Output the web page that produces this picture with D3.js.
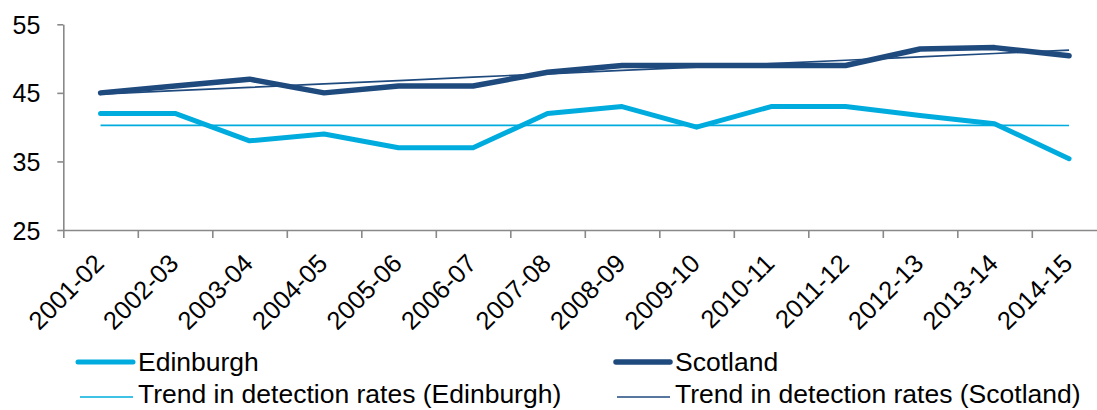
<!DOCTYPE html>
<html>
<head>
<meta charset="utf-8">
<script src="https://cdn.jsdelivr.net/npm/d3@7"></script>
<style>
  html, body { margin: 0; padding: 0; background: #fff; }
  svg { display: block; font-family: "Liberation Sans", Arial, sans-serif; }
</style>
</head>
<body>
<svg id="chart" width="1097" height="410"></svg>
<script>
// Detection rates (%) by financial year
const years = ["2001-02","2002-03","2003-04","2004-05","2005-06","2006-07","2007-08",
               "2008-09","2009-10","2010-11","2011-12","2012-13","2013-14","2014-15"];
const edinburgh = [42, 42, 38, 39, 37, 37, 42, 43, 40, 43, 43, 41.7, 40.5, 35.4];
const scotland  = [45, 46, 47, 45, 46, 46, 48, 49, 49, 49, 49, 51.4, 51.6, 50.4];
const yTicks = [25, 35, 45, 55];
const legendLabels = ["Edinburgh", "Scotland",
  "Trend in detection rates (Edinburgh)", "Trend in detection rates (Scotland)"];

const colEdin = "#00ACDE";
const colScot = "#1F4A7E";
const axisCol = "#898989";

const svg = d3.select("#chart");

// Category axis runs past the right edge of the drawing
const xIdx = d3.scaleLinear().domain([0, years.length]).range([63.3, 1106.3]);
const y = d3.scaleLinear().domain([25, 55]).range([230, 24.3]);
const cx = i => xIdx(i + 0.5);

// Least-squares linear trend through a series
function trend(vals) {
  const mx = d3.mean(vals, (v, i) => i);
  const my = d3.mean(vals);
  let sxy = 0, sxx = 0;
  vals.forEach((v, i) => { sxy += (i - mx) * (v - my); sxx += (i - mx) * (i - mx); });
  const b = sxy / sxx, a = my - b * mx;
  return vals.map((v, i) => a + b * i);
}

// Y axis
const yAxis = svg.append("g")
  .attr("transform", "translate(63.3,0)")
  .call(d3.axisLeft(y).tickValues(yTicks).tickSize(6).tickSizeOuter(0).tickPadding(17));
yAxis.select(".domain").attr("stroke", axisCol).attr("stroke-width", 1.6);
yAxis.selectAll(".tick line").attr("stroke", axisCol).attr("stroke-width", 1.6);
yAxis.selectAll(".tick text").attr("font-size", 25).attr("fill", "#000")
  .attr("font-family", "Liberation Sans, Arial, sans-serif").attr("dy", "0.36em");

// X axis with ticks between categories
const xAxis = svg.append("g")
  .attr("transform", `translate(0,${y(25)})`)
  .call(d3.axisBottom(xIdx).tickValues(d3.range(0, years.length + 1)).tickFormat("")
    .tickSize(8).tickSizeOuter(0));
xAxis.select(".domain").attr("stroke", axisCol).attr("stroke-width", 1.6);
xAxis.selectAll(".tick line").attr("stroke", axisCol).attr("stroke-width", 1.6);

// Rotated category labels
svg.append("g").selectAll("text")
  .data(years)
  .join("text")
  .attr("transform", (d, i) => `translate(${cx(i) + 5},${y(25) + 35}) rotate(-45)`)
  .attr("text-anchor", "end")
  .attr("font-size", 25.5)
  .attr("fill", "#000")
  .text(d => d);

const line = d3.line().x((d, i) => cx(i)).y(d => y(d));

// Trend lines
svg.append("path").datum(trend(edinburgh))
  .attr("d", line).attr("fill", "none").attr("stroke", colEdin).attr("stroke-width", 1.7);
svg.append("path").datum(trend(scotland))
  .attr("d", line).attr("fill", "none").attr("stroke", colScot).attr("stroke-width", 1.7);

// Series lines
svg.append("path").datum(edinburgh)
  .attr("d", line).attr("fill", "none").attr("stroke", colEdin).attr("stroke-width", 5)
  .attr("stroke-linejoin", "round").attr("stroke-linecap", "round");
svg.append("path").datum(scotland)
  .attr("d", line).attr("fill", "none").attr("stroke", colScot).attr("stroke-width", 5.5)
  .attr("stroke-linejoin", "round").attr("stroke-linecap", "round");

// Legend
const legendItems = [
  { label: legendLabels[0], color: colEdin, w: 5,   x0: 78,  x1: 133, ly: 362, tx: 138, ty: 371 },
  { label: legendLabels[1], color: colScot, w: 5.5, x0: 616, x1: 670, ly: 362, tx: 675, ty: 371 },
  { label: legendLabels[2], color: colEdin, w: 1.7, x0: 80,  x1: 133, ly: 397, tx: 138, ty: 403 },
  { label: legendLabels[3], color: colScot, w: 1.7, x0: 617, x1: 670, ly: 397, tx: 675, ty: 403 }
];
const lg = svg.append("g");
legendItems.forEach(it => {
  lg.append("line").attr("x1", it.x0).attr("x2", it.x1).attr("y1", it.ly).attr("y2", it.ly)
    .attr("stroke", it.color).attr("stroke-width", it.w)
    .attr("stroke-linecap", it.w > 3 ? "round" : "butt");
  lg.append("text").attr("x", it.tx).attr("y", it.ty).attr("font-size", 26.5)
    .attr("fill", "#000").text(it.label);
});
</script>
</body>
</html>
